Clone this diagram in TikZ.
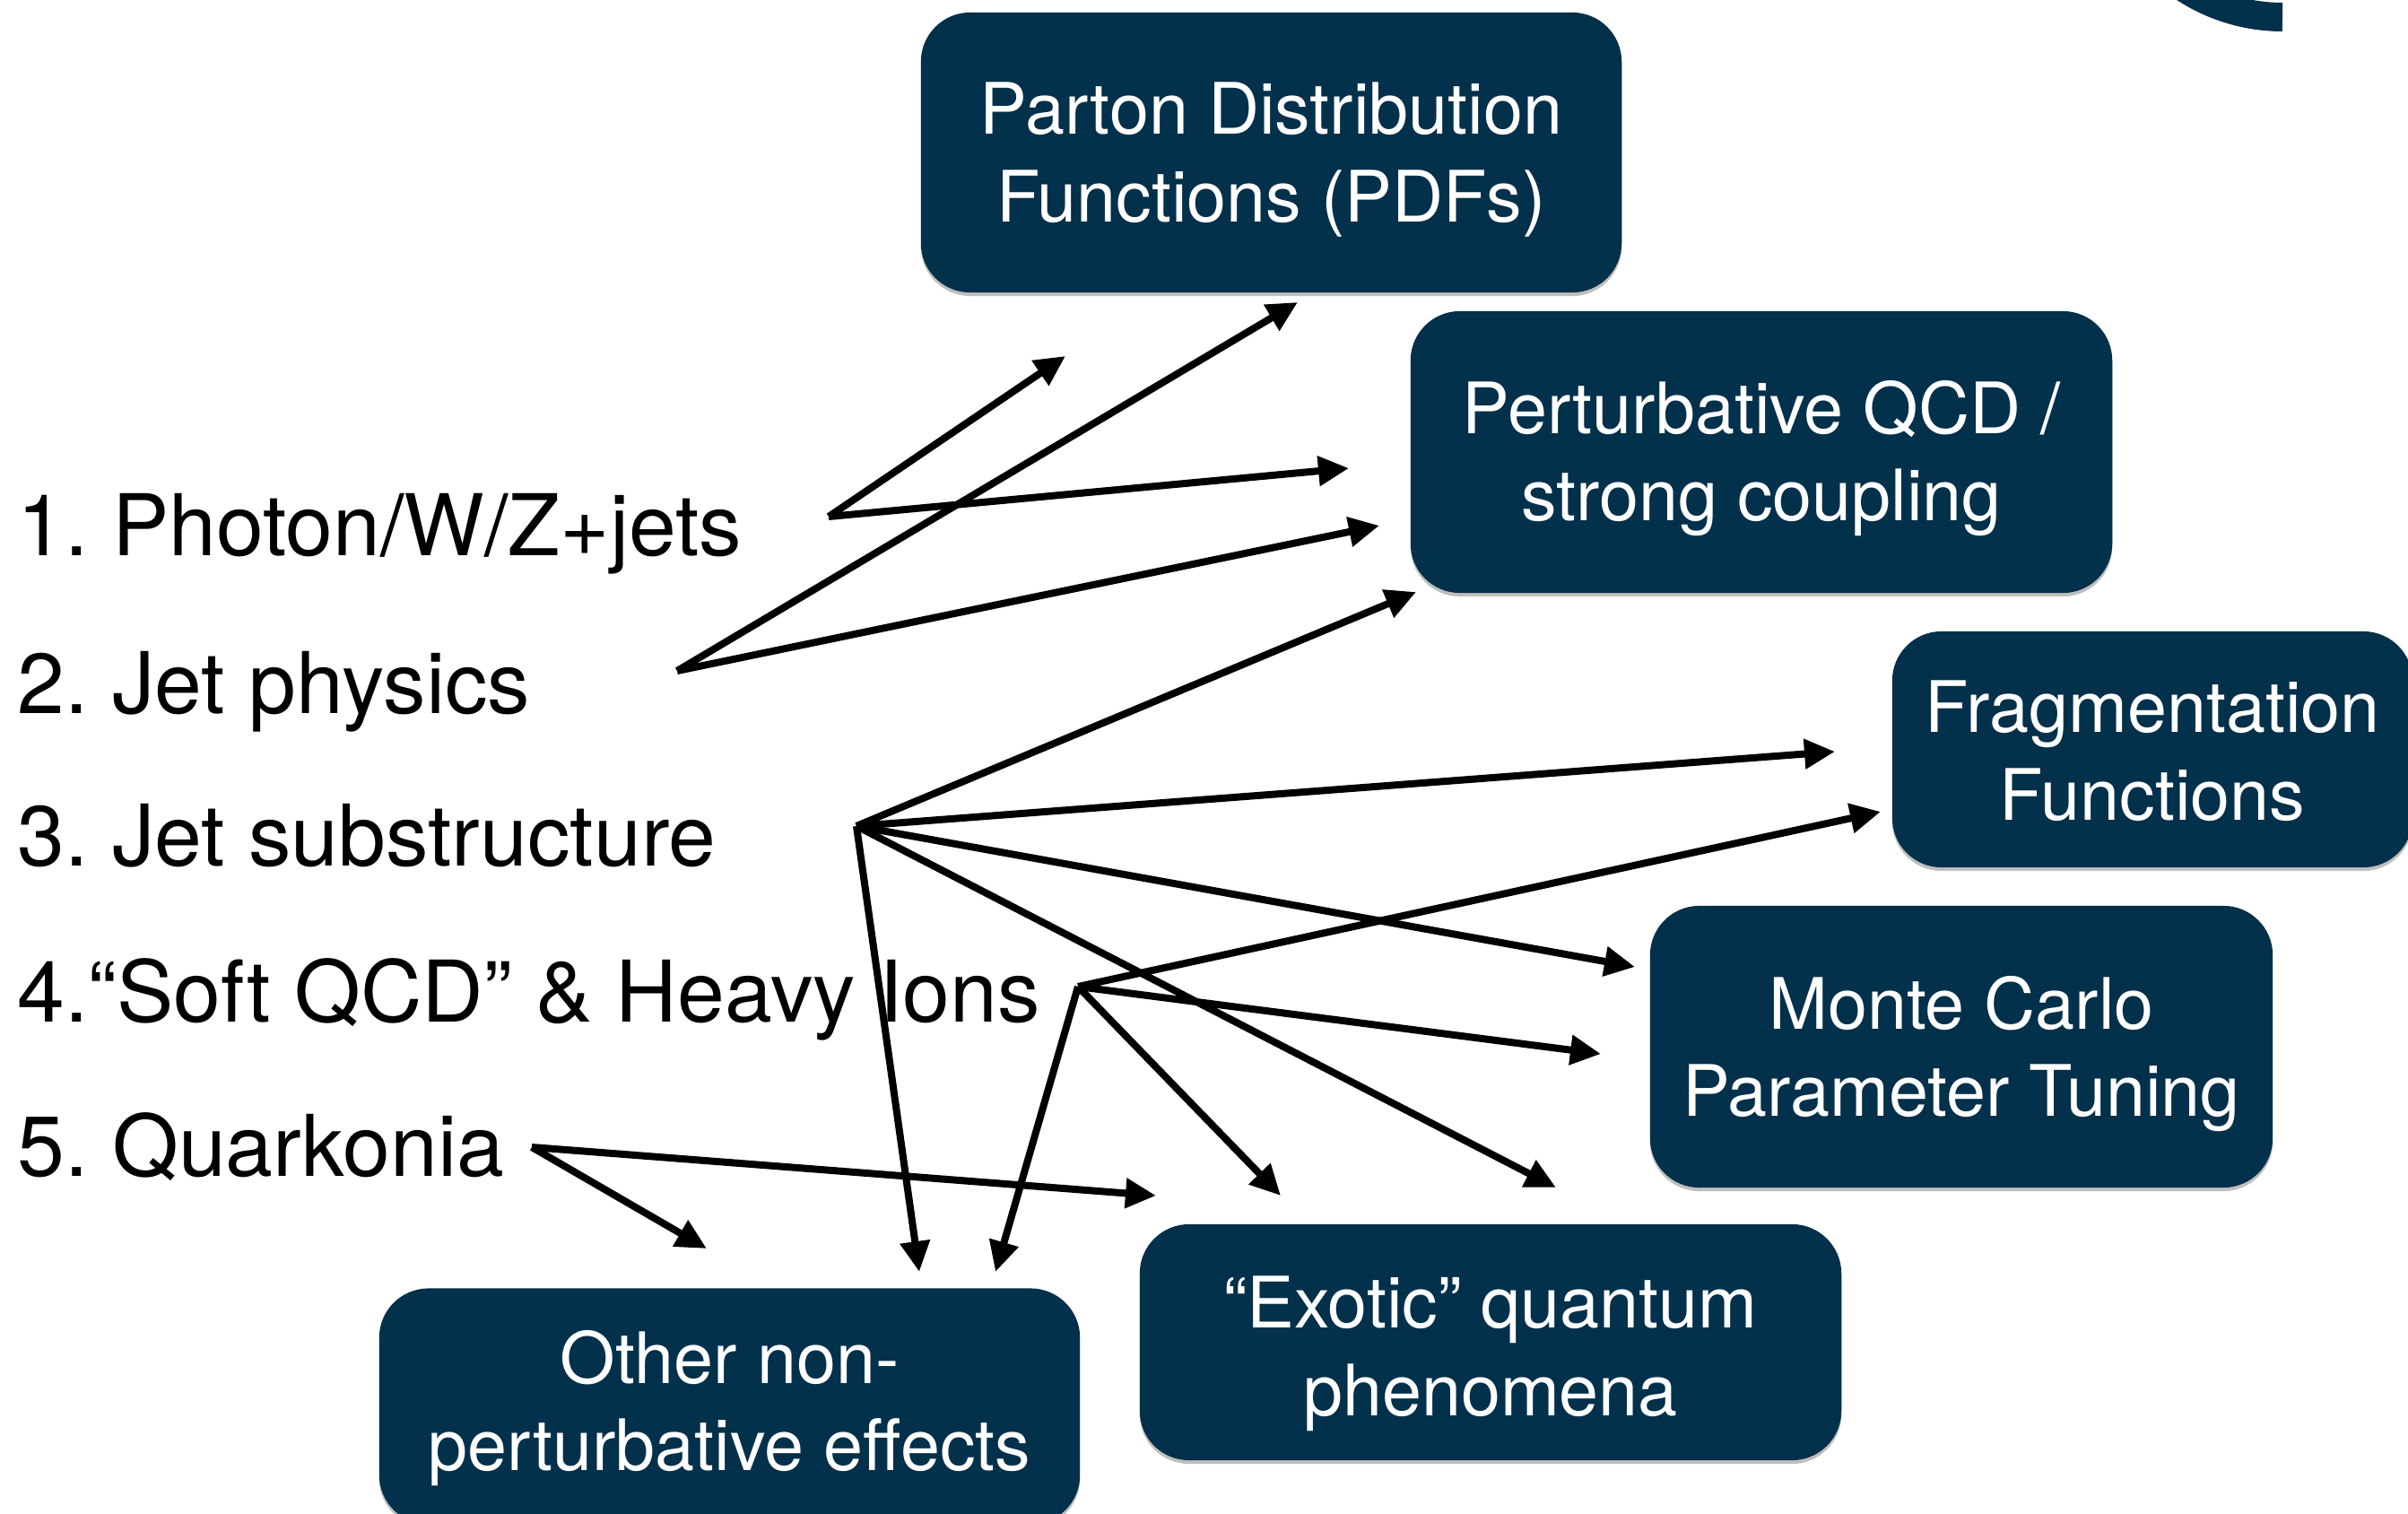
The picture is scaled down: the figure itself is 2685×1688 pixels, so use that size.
\documentclass[tikz,border=0pt]{standalone}
\usepackage{fontspec}
\setmainfont{TeX Gyre Heros}
\usepackage{tikz}
\usetikzlibrary{arrows.meta}
\usetikzlibrary{shadows}
\definecolor{navy}{HTML}{03304A}
\frenchspacing
\newcommand{\topic}[3]{\node[topic] (#1) at (19,#2) {#3};}
\newcommand{\field}[7]{\node[field, minimum width=#4cm, minimum height=#5cm,
    label={[fieldtext, yshift=-#7cm]center:#6}] (#1) at (#2,#3) {};}
\newcommand{\link}[2]{\draw[link] (#1) -- (#2);}

\begin{document}
\begin{tikzpicture}[x=0.01cm, y=-0.01cm,
    topic/.style={anchor=base west, inner sep=0pt, font=\fontsize{27}{32}\selectfont},
    field/.style={rectangle, rounded corners=0.55cm, fill=navy, inner sep=0pt,
        drop shadow={shadow xshift=0cm, shadow yshift=-0.04cm, opacity=0.25, fill=black}},
    fieldtext/.style={text=white, align=center, inner sep=0pt, font=\fontsize{22.5}{27.8}\selectfont},
    link/.style={line width=0.08cm, -{Triangle[length=0.34cm, width=0.32cm]}}]
        \useasboundingbox (0,0) rectangle (2685,1688);
        \clip (0,0) rectangle (2685,1688);
        % logo corner
        \draw[navy, line width=0.32cm] (2545,19) arc[start angle=90, end angle=130, radius=200];
        % boxes
        \field{pdf}{1417.5}{170}{7.81}{3.12}{Parton Distribution\\Functions (PDFs)}{0.08}
        \field{pqcd}{1964}{504}{7.82}{3.14}{Perturbative QCD /\\strong coupling}{0.07}
        \field{frag}{2400}{835.5}{5.80}{2.63}{Fragmentation\\Functions}{0.02}
        \field{mc}{2187}{1167}{6.94}{3.14}{Monte Carlo\\Parameter Tuning}{0.08}
        \field{exotic}{1662}{1496.5}{7.82}{2.63}{“Exotic” quantum\\phenomena}{0.13}
        \field{other}{813.5}{1568}{7.81}{2.63}{Other non-\\perturbative effects}{0.02}
        % topics
        \topic{photon}{619}{1. Photon/W/Z+jets}
        \topic{jets}{795}{2. Jet physics}
        \topic{substr}{965}{3. Jet substructure}
        \topic{soft}{1139}{4.“Soft QCD” \& Heavy Ions}
        \topic{onia}{1311}{5. Quarkonia}
        % arrow tails
        \coordinate (photon-out) at (924,576);
        \coordinate (jets-out) at (755,748);
        \coordinate (substr-out) at (955,921);
        \coordinate (soft-out) at (1202,1100);
        \coordinate (onia-out) at (593,1279);
        % arrow heads
        \coordinate (pdf-a) at (1188,397);
        \coordinate (pdf-b) at (1447,337);
        \coordinate (pqcd-a) at (1504,522);
        \coordinate (pqcd-b) at (1538,586);
        \coordinate (pqcd-c) at (1579,660);
        \coordinate (frag-a) at (2046,838);
        \coordinate (frag-b) at (2097,905);
        \coordinate (mc-a) at (1823,1078);
        \coordinate (mc-b) at (1785,1175);
        \coordinate (exotic-a) at (1289,1333);
        \coordinate (exotic-b) at (1428,1333);
        \coordinate (exotic-c) at (1735,1324);
        \coordinate (other-a) at (788,1392);
        \coordinate (other-b) at (1025,1418);
        \coordinate (other-c) at (1110,1418);
        % 1
        \link{photon-out}{pdf-a}
        \link{photon-out}{pqcd-a}
        % 2
        \link{jets-out}{pdf-b}
        \link{jets-out}{pqcd-b}
        % 3
        \link{substr-out}{pqcd-c}
        \link{substr-out}{frag-a}
        \link{substr-out}{mc-a}
        \link{substr-out}{exotic-c}
        \link{substr-out}{other-b}
        % 4
        \link{soft-out}{frag-b}
        \link{soft-out}{mc-b}
        \link{soft-out}{exotic-b}
        \link{soft-out}{other-c}
        % 5
        \link{onia-out}{other-a}
        \link{onia-out}{exotic-a}
    \end{tikzpicture}
\end{document}
